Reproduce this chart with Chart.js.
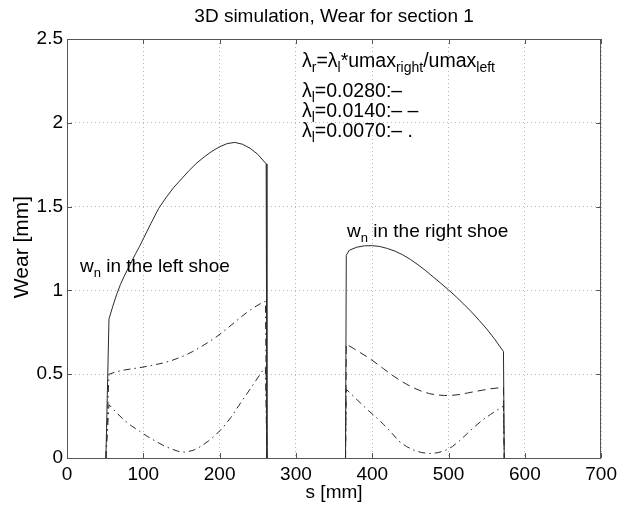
<!DOCTYPE html>
<html>
<head>
<meta charset="utf-8">
<script src="https://cdn.jsdelivr.net/npm/chart.js@4"></script>
<style>
  html, body { margin: 0; padding: 0; background: #fff; }
  #wrap { width: 622px; height: 506px; }
</style>
</head>
<body>
<div id="wrap"><canvas id="c" width="622" height="506"></canvas></div>
<script>
// Axis ticks
const xTicks = [0, 100, 200, 300, 400, 500, 600, 700];
const yTicks = [0, 0.5, 1, 1.5, 2, 2.5];

// lambda_l = 0.0280 (solid)
const sHighL = [51, 55, 60, 65, 70, 75, 80, 85, 90, 95, 100, 110, 120, 130, 140, 150, 160, 170, 180, 190, 200, 210, 220, 230, 240, 250, 261, 262];
const wHighL = [0, 0.83, 0.905, 0.975, 1.035, 1.085, 1.13, 1.175, 1.22, 1.262, 1.308, 1.40, 1.488, 1.555, 1.615, 1.665, 1.715, 1.76, 1.797, 1.83, 1.857, 1.876, 1.883, 1.872, 1.848, 1.812, 1.755, 0];
const sHighR = [365, 366, 370, 380, 390, 400, 410, 420, 430, 440, 450, 460, 470, 480, 490, 500, 510, 520, 530, 540, 550, 560, 570, 572, 573];
const wHighR = [0, 1.21, 1.24, 1.258, 1.266, 1.267, 1.262, 1.25, 1.234, 1.212, 1.185, 1.153, 1.118, 1.08, 1.042, 1.003, 0.962, 0.918, 0.872, 0.822, 0.77, 0.712, 0.648, 0.635, 0];

// lambda_l = 0.0140
const sMidL = [51, 55, 65, 75, 85, 95, 105, 115, 125, 135, 145, 155, 165, 175, 185, 195, 205, 215, 225, 235, 245, 255, 260, 262];
const wMidL = [0, 0.50, 0.515, 0.525, 0.532, 0.539, 0.547, 0.556, 0.566, 0.578, 0.595, 0.613, 0.636, 0.662, 0.69, 0.72, 0.755, 0.792, 0.83, 0.866, 0.898, 0.925, 0.935, 0];
const sMidR = [365, 366, 375, 385, 395, 405, 415, 425, 435, 445, 455, 465, 475, 485, 495, 505, 515, 525, 535, 545, 555, 565, 572, 573];
const wMidR = [0, 0.68, 0.655, 0.627, 0.599, 0.566, 0.532, 0.498, 0.467, 0.44, 0.417, 0.398, 0.384, 0.376, 0.373, 0.374, 0.379, 0.388, 0.397, 0.405, 0.413, 0.418, 0.421, 0];

// lambda_l = 0.0070
const sLowL = [51, 55, 65, 75, 85, 95, 105, 115, 125, 135, 145, 150, 155, 165, 175, 185, 195, 205, 215, 225, 235, 245, 255, 260, 262];
const wLowL = [0, 0.318, 0.27, 0.225, 0.19, 0.16, 0.13, 0.103, 0.078, 0.057, 0.041, 0.036, 0.035, 0.045, 0.068, 0.1, 0.138, 0.185, 0.243, 0.312, 0.378, 0.445, 0.512, 0.54, 0];
const sLowR = [365, 366, 375, 385, 395, 405, 415, 425, 435, 445, 455, 465, 475, 485, 495, 505, 515, 525, 535, 545, 555, 565, 572, 573];
const wLowR = [0, 0.41, 0.37, 0.326, 0.283, 0.243, 0.2, 0.152, 0.1, 0.068, 0.046, 0.032, 0.027, 0.031, 0.043, 0.068, 0.105, 0.148, 0.19, 0.228, 0.26, 0.29, 0.31, 0];

const FONT = '"Liberation Sans", Arial, Helvetica, sans-serif';
const LINE = '#2a2a2a';
const DASH = [8, 5];
const DASHDOT = [7, 4, 1.5, 4];

function pts(xs, ys) { return xs.map((x, i) => ({ x: x, y: ys[i] })); }
function series(xs, ys, dash) {
  return {
    data: pts(xs, ys),
    borderColor: LINE,
    borderWidth: 1,
    borderDash: dash,
    pointRadius: 0,
    fill: false,
    tension: 0
  };
}

// Text with subscripts: parts are [text, isSub]
function drawRich(ctx, parts, x, y, size) {
  let cx = x;
  ctx.textAlign = 'left';
  ctx.textBaseline = 'alphabetic';
  for (const [t, sub] of parts) {
    const fs = sub ? Math.round(size * 0.7) : size;
    ctx.font = fs + 'px ' + FONT;
    ctx.fillText(t, cx, sub ? y + size * 0.28 : y);
    cx += ctx.measureText(t).width;
  }
}

const frame = {
  id: 'frame',
  beforeDatasetsDraw(chart) {
    const { ctx, chartArea: a, scales } = chart;
    ctx.save();
    ctx.strokeStyle = '#555';
    ctx.lineWidth = 1;
    ctx.beginPath();
    xTicks.forEach(v => {
      const px = Math.round(scales.x.getPixelForValue(v)) + 0.5;
      ctx.moveTo(px, a.bottom); ctx.lineTo(px, a.bottom - 5);
      ctx.moveTo(px, a.top); ctx.lineTo(px, a.top + 5);
    });
    yTicks.forEach(v => {
      const py = Math.round(scales.y.getPixelForValue(v)) + 0.5;
      ctx.moveTo(a.left, py); ctx.lineTo(a.left + 5, py);
      ctx.moveTo(a.right, py); ctx.lineTo(a.right - 5, py);
    });
    ctx.stroke();
    ctx.strokeRect(Math.round(a.left) + 0.5, Math.round(a.top) + 0.5,
                   Math.round(a.right - a.left) - 1, Math.round(a.bottom - a.top));
    ctx.restore();
  },
  afterDraw(chart) {
    const { ctx, chartArea: a } = chart;
    ctx.save();
    ctx.fillStyle = '#000';
    ctx.textAlign = 'center';
    ctx.textBaseline = 'middle';
    // title
    ctx.font = '19px ' + FONT;
    ctx.fillText('3D simulation, Wear for section 1', (a.left + a.right) / 2, 17);
    // axis titles
    ctx.fillText('s [mm]', (a.left + a.right) / 2, 493);
    ctx.save();
    ctx.font = '21px ' + FONT;
    ctx.translate(22, 247);
    ctx.rotate(-Math.PI / 2);
    ctx.fillText('Wear [mm]', 0, 0);
    ctx.restore();
    // annotations
    const fs = 19.5;
    drawRich(ctx, [['λ'], ['r', 1], ['=λ'], ['l', 1], ['*umax'], ['right', 1], ['/umax'], ['left', 1]], 302, 67, fs);
    drawRich(ctx, [['λ'], ['l', 1], ['=0.0280:–']], 302, 97, fs);
    drawRich(ctx, [['λ'], ['l', 1], ['=0.0140:– –']], 302, 117, fs);
    drawRich(ctx, [['λ'], ['l', 1], ['=0.0070:– .']], 302, 137, fs);
    drawRich(ctx, [['w'], ['n', 1], [' in the left shoe']], 80, 272, 19);
    drawRich(ctx, [['w'], ['n', 1], [' in the right shoe']], 347, 237, 19);
    ctx.restore();
  }
};

new Chart(document.getElementById('c'), {
  type: 'line',
  data: {
    datasets: [
      series(sHighL, wHighL, []),
      series(sHighR, wHighR, []),
      series(sMidL, wMidL, DASHDOT),
      series(sMidR, wMidR, DASH),
      series(sLowL, wLowL, DASHDOT),
      series(sLowR, wLowR, DASHDOT)
    ]
  },
  options: {
    responsive: false,
    animation: false,
    layout: { padding: { top: 39, right: 19, left: 0, bottom: 0 } },
    plugins: { legend: { display: false }, title: { display: false }, tooltip: { enabled: false } },
    scales: {
      x: {
        type: 'linear', min: 0, max: 700,
        afterBuildTicks: s => { s.ticks = xTicks.map(v => ({ value: v })); },
        afterFit: s => { s.height = 48; },
        grid: { color: '#b8b8b8', lineWidth: 1, drawTicks: false },
        border: { display: false, dash: [1, 3] },
        ticks: { color: '#000', font: { family: FONT, size: 19 }, padding: 5, maxRotation: 0,
                 callback: v => String(v) }
      },
      y: {
        type: 'linear', min: 0, max: 2.5,
        afterBuildTicks: s => { s.ticks = yTicks.map(v => ({ value: v })); },
        afterFit: s => { s.width = 67; },
        grid: { color: '#b8b8b8', lineWidth: 1, drawTicks: false },
        border: { display: false, dash: [1, 3] },
        ticks: { color: '#000', font: { family: FONT, size: 19 }, padding: 4,
                 callback: v => String(v) }
      }
    }
  },
  plugins: [frame]
});
</script>
</body>
</html>
